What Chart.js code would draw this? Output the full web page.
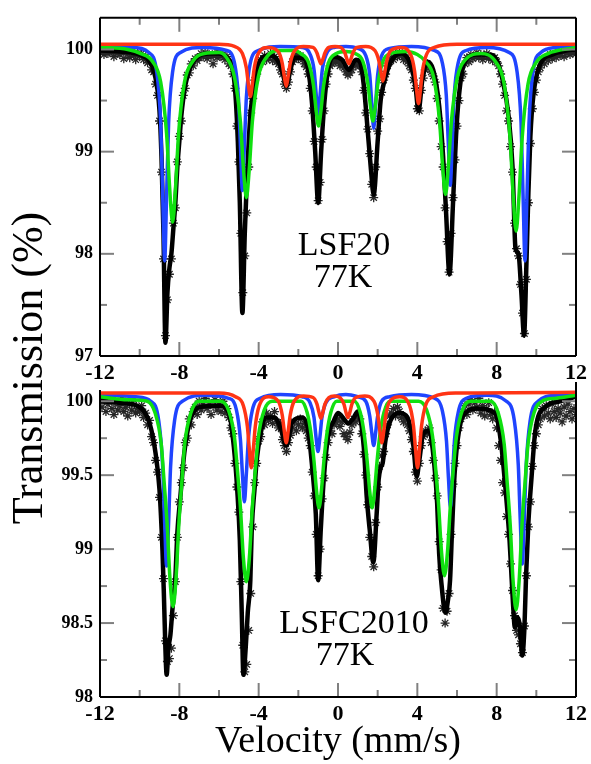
<!DOCTYPE html>
<html>
<head>
<meta charset="utf-8">
<script src="https://cdn.jsdelivr.net/npm/chart.js@4.4.1/dist/chart.umd.min.js"></script>
<style>
  body { margin: 0; background: #fff; }
  #wrap { position: relative; width: 591px; height: 764px; }
  canvas { position: absolute; left: 0; top: 0; }
  .warm { position: absolute; left: -1000px; top: 0; font-family: "Liberation Serif"; }
</style>
</head>
<body>
<div id="wrap">
  <canvas id="topChart" width="591" height="764"></canvas>
  <canvas id="bottomChart" width="591" height="764"></canvas>
</div>
<div class="warm">Velocity <b>-12 100</b></div>
<script>
// velocity channels (mm/s), same for both spectra
const velocity = [
  -12.0, -11.9, -11.8, -11.7, -11.6, -11.5, -11.4, -11.3, -11.2, -11.1,
  -11.0, -10.9, -10.8, -10.7, -10.6, -10.5, -10.4, -10.3, -10.2, -10.1,
  -10.0, -9.9, -9.8, -9.7, -9.6, -9.5, -9.4, -9.3, -9.2, -9.1,
  -9.0, -8.9, -8.8, -8.7, -8.6, -8.5, -8.4, -8.3, -8.2, -8.1,
  -8.0, -7.9, -7.8, -7.7, -7.6, -7.5, -7.4, -7.3, -7.2, -7.1,
  -7.0, -6.9, -6.8, -6.7, -6.6, -6.5, -6.4, -6.3, -6.2, -6.1,
  -6.0, -5.9, -5.8, -5.7, -5.6, -5.5, -5.4, -5.3, -5.2, -5.1,
  -5.0, -4.9, -4.8, -4.7, -4.6, -4.5, -4.4, -4.3, -4.2, -4.1,
  -4.0, -3.9, -3.8, -3.7, -3.6, -3.5, -3.4, -3.3, -3.2, -3.1,
  -3.0, -2.9, -2.8, -2.7, -2.6, -2.5, -2.4, -2.3, -2.2, -2.1,
  -2.0, -1.9, -1.8, -1.7, -1.6, -1.5, -1.4, -1.3, -1.2, -1.1,
  -1.0, -0.9, -0.8, -0.7, -0.6, -0.5, -0.4, -0.3, -0.2, -0.1,
  0.0, 0.1, 0.2, 0.3, 0.4, 0.5, 0.6, 0.7, 0.8, 0.9,
  1.0, 1.1, 1.2, 1.3, 1.4, 1.5, 1.6, 1.7, 1.8, 1.9,
  2.0, 2.1, 2.2, 2.3, 2.4, 2.5, 2.6, 2.7, 2.8, 2.9,
  3.0, 3.1, 3.2, 3.3, 3.4, 3.5, 3.6, 3.7, 3.8, 3.9,
  4.0, 4.1, 4.2, 4.3, 4.4, 4.5, 4.6, 4.7, 4.8, 4.9,
  5.0, 5.1, 5.2, 5.3, 5.4, 5.5, 5.6, 5.7, 5.8, 5.9,
  6.0, 6.1, 6.2, 6.3, 6.4, 6.5, 6.6, 6.7, 6.8, 6.9,
  7.0, 7.1, 7.2, 7.3, 7.4, 7.5, 7.6, 7.7, 7.8, 7.9,
  8.0, 8.1, 8.2, 8.3, 8.4, 8.5, 8.6, 8.7, 8.8, 8.9,
  9.0, 9.1, 9.2, 9.3, 9.4, 9.5, 9.6, 9.7, 9.8, 9.9,
  10.0, 10.1, 10.2, 10.3, 10.4, 10.5, 10.6, 10.7, 10.8, 10.9,
  11.0, 11.1, 11.2, 11.3, 11.4, 11.5, 11.6, 11.7, 11.8, 11.9, 12.0
];

// LSF20, 77K - measured transmission (%)
const transLSF20 = [
  99.97, 100.00, 99.95, 99.99, 99.96, 100.00, 99.97, 99.93, 99.99, 99.96,
  99.95, 99.98, 99.91, 99.99, 99.96, 99.92, 99.97, 99.94, 99.90, 99.96,
  99.93, 99.96, 99.90, 99.93, 99.87, 99.89, 99.80, 99.78, 99.66, 99.55,
  99.30, 98.80, 97.95, 97.20, 97.55, 97.80, 97.95, 98.30, 98.45, 98.90,
  99.15, 99.30, 99.55, 99.62, 99.75, 99.77, 99.86, 99.84, 99.91, 99.89,
  99.92, 99.96, 99.93, 99.97, 99.91, 99.95, 99.93, 99.86, 99.96, 99.92,
  99.97, 99.93, 99.95, 99.90, 99.93, 99.86, 99.84, 99.76, 99.62, 99.25,
  98.90, 98.20, 97.62, 97.98, 98.40, 98.85, 99.38, 99.52, 99.70, 99.76,
  99.83, 99.90, 99.88, 99.94, 99.90, 99.92, 99.96, 99.89, 99.93, 99.88,
  99.86, 99.80, 99.76, 99.66, 99.62, 99.68, 99.78, 99.88, 99.90, 99.95,
  99.91, 99.94, 99.90, 99.86, 99.83, 99.76, 99.62, 99.40, 99.10, 98.85,
  98.52, 98.70, 99.12, 99.40, 99.66, 99.76, 99.84, 99.86, 99.90, 99.88,
  99.88, 99.84, 99.87, 99.82, 99.78, 99.75, 99.77, 99.80, 99.86, 99.84,
  99.87, 99.84, 99.78, 99.60, 99.38, 99.22, 98.98, 98.68, 98.55, 98.85,
  99.20, 99.32, 99.58, 99.70, 99.76, 99.84, 99.88, 99.92, 99.90, 99.96,
  99.93, 99.97, 99.94, 99.90, 99.92, 99.88, 99.84, 99.80, 99.70, 99.62,
  99.42, 99.40, 99.60, 99.72, 99.80, 99.86, 99.82, 99.78, 99.74, 99.68,
  99.52, 99.30, 99.05, 98.85, 98.45, 98.12, 97.82, 98.20, 98.55, 98.92,
  99.25, 99.50, 99.72, 99.76, 99.86, 99.92, 99.88, 99.95, 99.91, 99.93,
  99.97, 99.92, 99.95, 99.90, 99.94, 99.96, 99.91, 99.93, 99.89, 99.92,
  99.88, 99.84, 99.76, 99.66, 99.55, 99.40, 99.30, 99.05, 98.80, 98.30,
  98.05, 97.98, 97.70, 97.42, 97.22, 97.75, 98.50, 99.08, 99.42, 99.58,
  99.70, 99.78, 99.82, 99.90, 99.86, 99.92, 99.89, 99.95, 99.91, 99.94,
  99.92, 99.97, 99.94, 99.98, 99.93, 99.96, 99.99, 99.95, 99.97, 100.01, 99.96
];

// LSFC2010, 77K - measured transmission (%)
const transLSFC2010 = [
  100.02, 99.96, 100.01, 99.93, 99.98, 100.03, 99.95, 99.91, 99.99, 99.94,
  99.97, 100.02, 99.93, 99.96, 99.90, 99.98, 99.94, 100.01, 99.92, 99.95,
  99.93, 99.97, 99.89, 99.92, 99.84, 99.87, 99.76, 99.72, 99.60, 99.52,
  99.35, 99.08, 98.80, 98.38, 98.24, 98.26, 98.33, 98.55, 98.78, 99.08,
  99.32, 99.45, 99.55, 99.72, 99.75, 99.88, 99.84, 99.93, 99.96, 99.91,
  100.00, 99.94, 99.98, 100.02, 99.95, 99.99, 99.91, 99.97, 100.01, 99.94,
  99.98, 99.93, 100.00, 99.92, 99.95, 99.89, 99.82, 99.78, 99.58, 99.42,
  99.25, 98.78, 98.35, 98.17, 98.22, 98.45, 98.70, 99.15, 99.45, 99.58,
  99.73, 99.76, 99.86, 99.84, 99.92, 99.87, 99.90, 99.85, 99.93, 99.86,
  99.82, 99.85, 99.74, 99.70, 99.66, 99.72, 99.77, 99.82, 99.86, 99.80,
  99.84, 99.88, 99.82, 99.85, 99.80, 99.75, 99.70, 99.52, 99.36, 99.10,
  98.82, 99.00, 99.34, 99.48, 99.62, 99.72, 99.80, 99.78, 99.84, 99.86,
  99.88, 99.83, 99.86, 99.78, 99.76, 99.74, 99.79, 99.84, 99.88, 99.86,
  99.90, 99.88, 99.78, 99.64, 99.50, 99.30, 99.08, 98.95, 98.88, 99.18,
  99.42, 99.56, 99.63, 99.66, 99.78, 99.84, 99.90, 99.92, 99.95, 99.90,
  99.96, 99.93, 99.89, 99.86, 99.88, 99.84, 99.80, 99.74, 99.66, 99.52,
  99.46, 99.58, 99.70, 99.76, 99.80, 99.78, 99.82, 99.72, 99.60, 99.48,
  99.36, 99.05, 98.86, 98.60, 98.50, 98.58, 98.70, 99.10, 99.44, 99.58,
  99.70, 99.82, 99.88, 99.93, 99.97, 99.91, 99.98, 100.01, 99.94, 99.99,
  99.96, 100.02, 99.92, 99.97, 99.90, 99.95, 99.99, 99.91, 99.88, 99.93,
  99.82, 99.70, 99.60, 99.45, 99.38, 99.22, 99.10, 98.90, 98.72, 98.55,
  98.45, 98.42, 98.36, 98.30, 98.48, 98.82, 99.15, 99.32, 99.56, 99.70,
  99.78, 99.84, 99.88, 99.95, 99.90, 99.97, 99.92, 99.88, 99.98, 99.93,
  99.89, 99.95, 99.92, 99.86, 99.96, 99.90, 99.98, 99.93, 99.88, 99.95, 99.91
];

// fitted curves, [velocity, transmission]
const lsf20Total = [
  [-12, 99.99], [-11, 99.98], [-10, 99.95], [-9.5, 99.88], [-9.2, 99.72], [-9.0, 99.40],
  [-8.9, 98.95], [-8.8, 98.20], [-8.7, 97.13], [-8.6, 97.62], [-8.5, 97.86], [-8.4, 98.00],
  [-8.3, 98.25], [-8.2, 98.50], [-8.1, 98.85], [-8.0, 99.10], [-7.9, 99.35], [-7.7, 99.65],
  [-7.4, 99.85], [-7.0, 99.94], [-6.5, 99.96], [-6.0, 99.96], [-5.6, 99.92], [-5.3, 99.80],
  [-5.15, 99.50], [-5.05, 99.10], [-4.95, 98.50], [-4.82, 97.42], [-4.7, 98.20], [-4.6, 98.70],
  [-4.5, 99.10], [-4.4, 99.40], [-4.25, 99.62], [-4.1, 99.80], [-3.8, 99.92], [-3.4, 99.94],
  [-3.0, 99.88], [-2.8, 99.78], [-2.6, 99.64], [-2.4, 99.80], [-2.2, 99.92], [-1.8, 99.92],
  [-1.5, 99.80], [-1.3, 99.45], [-1.15, 99.00], [-1.0, 98.50], [-0.85, 99.00], [-0.7, 99.45],
  [-0.5, 99.80], [-0.2, 99.93], [0.2, 99.90], [0.55, 99.80], [0.9, 99.90], [1.1, 99.88],
  [1.3, 99.65], [1.5, 99.20], [1.65, 98.85], [1.8, 98.58], [2.0, 99.10], [2.15, 99.50],
  [2.3, 99.66], [2.5, 99.80], [2.8, 99.92], [3.2, 99.96], [3.6, 99.88], [3.9, 99.65],
  [4.06, 99.40], [4.25, 99.70], [4.5, 99.88], [4.8, 99.80], [5.1, 99.45], [5.3, 98.95],
  [5.45, 98.40], [5.62, 97.80], [5.8, 98.50], [5.95, 99.15], [6.1, 99.55], [6.4, 99.88],
  [7.0, 99.95], [7.6, 99.95], [8.0, 99.90], [8.3, 99.70], [8.6, 99.35], [8.8, 98.85],
  [8.95, 98.05], [9.1, 98.00], [9.25, 97.60], [9.38, 97.20], [9.5, 97.90], [9.6, 98.60],
  [9.7, 99.15], [9.85, 99.55], [10.2, 99.86], [10.8, 99.95], [11.5, 99.99], [12, 100.0]
];
const lsf20Blue = [
  [-12, 100.03], [-10.3, 100.02], [-9.54, 99.97], [-9.14, 99.78], [-8.94, 99.28], [-8.84, 98.58],
  [-8.74, 97.93], [-8.64, 98.58], [-8.54, 99.28], [-8.34, 99.78], [-7.94, 99.97], [-6.8, 100.02],
  [-5.62, 99.99], [-5.22, 99.87], [-5.02, 99.53], [-4.92, 99.06], [-4.82, 98.62], [-4.72, 99.06],
  [-4.62, 99.53], [-4.42, 99.87], [-4.02, 99.99], [-2.9, 100.03], [-1.8, 100.02], [-1.4, 99.95],
  [-1.2, 99.79], [-1.1, 99.56], [-1.0, 99.34], [-0.9, 99.56], [-0.8, 99.79], [-0.6, 99.95],
  [-0.2, 100.02], [0.4, 100.03], [1.0, 100.01], [1.4, 99.94], [1.6, 99.75], [1.7, 99.48],
  [1.8, 99.23], [1.9, 99.48], [2.0, 99.75], [2.2, 99.94], [2.6, 100.01], [3.7, 100.03],
  [4.86, 99.99], [5.26, 99.87], [5.46, 99.55], [5.56, 99.09], [5.66, 98.67], [5.76, 99.09],
  [5.86, 99.55], [6.06, 99.87], [6.46, 99.99], [7.5, 100.02], [8.63, 99.97], [9.03, 99.78],
  [9.23, 99.28], [9.33, 98.58], [9.43, 97.93], [9.53, 98.58], [9.63, 99.28], [9.83, 99.78],
  [10.23, 99.97], [11, 100.02], [12, 100.03]
];
const lsf20Green = [
  [-12, 100.02], [-10.6, 100.0], [-9.94, 99.96], [-9.34, 99.88], [-8.94, 99.68], [-8.64, 99.17],
  [-8.49, 98.65], [-8.34, 98.31], [-8.19, 98.65], [-8.04, 99.17], [-7.74, 99.68], [-7.34, 99.88],
  [-6.74, 99.96], [-6.0, 99.97], [-5.62, 99.92], [-5.22, 99.73], [-4.92, 99.29], [-4.77, 98.84],
  [-4.62, 98.55], [-4.47, 98.84], [-4.32, 99.29], [-4.02, 99.73], [-3.62, 99.92], [-2.9, 99.99],
  [-2.2, 99.99], [-1.88, 99.96], [-1.48, 99.87], [-1.23, 99.64], [-1.1, 99.40], [-0.98, 99.25],
  [-0.86, 99.40], [-0.73, 99.64], [-0.48, 99.87], [-0.08, 99.96], [0.4, 99.98], [0.86, 99.96],
  [1.26, 99.88], [1.51, 99.66], [1.64, 99.44], [1.76, 99.30], [1.88, 99.44], [2.01, 99.66],
  [2.26, 99.88], [2.66, 99.96], [3.4, 99.98], [4.0, 99.95], [4.42, 99.88], [4.82, 99.73],
  [5.12, 99.30], [5.27, 98.87], [5.42, 98.58], [5.57, 98.87], [5.72, 99.30], [6.02, 99.73],
  [6.42, 99.90], [7.2, 99.96], [7.98, 99.87], [8.38, 99.66], [8.68, 99.12], [8.83, 98.58],
  [8.98, 98.22], [9.13, 98.58], [9.28, 99.12], [9.58, 99.66], [9.98, 99.87], [10.58, 99.96],
  [12, 100.02]
];
const lsf20Red = [
  [-12, 100.05], [-6.0, 100.05], [-5.22, 100.03], [-4.82, 99.96], [-4.62, 99.82], [-4.52, 99.66],
  [-4.42, 99.54], [-4.32, 99.66], [-4.22, 99.82], [-4.02, 99.96], [-3.52, 100.02], [-3.01, 99.98],
  [-2.81, 99.865], [-2.71, 99.74], [-2.61, 99.64], [-2.51, 99.74], [-2.41, 99.865], [-2.21, 99.98],
  [-1.74, 100.03], [-1.26, 100.02], [-1.06, 99.965], [-0.96, 99.905], [-0.86, 99.86], [-0.76, 99.905],
  [-0.66, 99.965], [-0.46, 100.02], [-0.15, 100.03], [0.15, 100.02], [0.35, 99.965], [0.45, 99.905],
  [0.55, 99.86], [0.65, 99.905], [0.75, 99.965], [0.95, 100.02], [1.4, 100.03], [1.86, 99.99],
  [2.06, 99.89], [2.16, 99.78], [2.26, 99.69], [2.36, 99.78], [2.46, 99.89], [2.66, 99.99],
  [3.16, 100.02], [3.66, 99.95], [3.86, 99.79], [3.96, 99.61], [4.06, 99.47], [4.16, 99.61],
  [4.26, 99.79], [4.46, 99.95], [4.86, 100.02], [6.0, 100.05], [12, 100.05]
];

const lsfc2010Total = [
  [-12, 100.0], [-11, 99.99], [-10, 99.96], [-9.5, 99.85], [-9.2, 99.65], [-9.0, 99.40],
  [-8.85, 98.99], [-8.78, 98.70], [-8.7, 98.32], [-8.64, 98.15], [-8.55, 98.33], [-8.45, 98.42],
  [-8.35, 98.59], [-8.2, 98.81], [-8.1, 99.11], [-7.95, 99.35], [-7.75, 99.65], [-7.5, 99.85],
  [-7.0, 99.96], [-6.0, 99.97], [-5.5, 99.92], [-5.25, 99.69], [-5.08, 99.40], [-4.95, 99.06],
  [-4.85, 98.55], [-4.77, 98.15], [-4.65, 98.34], [-4.55, 98.57], [-4.42, 98.79], [-4.35, 99.13],
  [-4.2, 99.42], [-4.1, 99.60], [-3.9, 99.78], [-3.65, 99.89], [-3.2, 99.89], [-2.9, 99.82],
  [-2.61, 99.70], [-2.3, 99.86], [-1.8, 99.89], [-1.5, 99.80], [-1.32, 99.58], [-1.12, 99.24],
  [-1.0, 98.79], [-0.87, 99.13], [-0.72, 99.47], [-0.5, 99.76], [-0.2, 99.87], [0.0, 99.92],
  [0.3, 99.88], [0.5, 99.85], [0.75, 99.88], [1.0, 99.93], [1.3, 99.69], [1.45, 99.35],
  [1.6, 99.13], [1.78, 98.91], [1.95, 99.24], [2.05, 99.47], [2.15, 99.55], [2.25, 99.58],
  [2.4, 99.74], [2.65, 99.87], [3.1, 99.92], [3.5, 99.89], [3.8, 99.70], [3.97, 99.49],
  [4.1, 99.60], [4.3, 99.78], [4.6, 99.80], [4.85, 99.58], [5.0, 99.31], [5.1, 98.97],
  [5.2, 98.79], [5.42, 98.57], [5.55, 98.66], [5.65, 98.79], [5.75, 99.13], [5.88, 99.51],
  [6.1, 99.80], [6.5, 99.93], [7.0, 99.95], [7.9, 99.92], [8.2, 99.74], [8.45, 99.40],
  [8.65, 99.06], [8.72, 98.89], [8.82, 98.64], [8.92, 98.47], [9.05, 98.54], [9.17, 98.48],
  [9.29, 98.28], [9.4, 98.47], [9.48, 98.81], [9.6, 99.18], [9.75, 99.47], [9.95, 99.80],
  [10.45, 99.96], [11.2, 100.0], [12, 100.03]
];
const lsfc2010Blue = [
  [-12, 100.045], [-10.2, 100.03], [-9.44, 100.0], [-9.04, 99.87], [-8.84, 99.56], [-8.74, 99.18],
  [-8.64, 98.885], [-8.54, 99.18], [-8.44, 99.56], [-8.24, 99.87], [-7.84, 100.0], [-6.7, 100.04],
  [-5.52, 100.02], [-5.12, 99.94], [-4.92, 99.74], [-4.82, 99.51], [-4.72, 99.32], [-4.62, 99.51],
  [-4.52, 99.74], [-4.32, 99.94], [-3.92, 100.02], [-2.9, 100.045], [-1.8, 100.03], [-1.41, 99.99],
  [-1.21, 99.89], [-1.11, 99.76], [-1.01, 99.66], [-0.91, 99.76], [-0.81, 99.89], [-0.61, 99.99],
  [-0.2, 100.03], [0.4, 100.045], [1.0, 100.03], [1.4, 100.0], [1.6, 99.90], [1.7, 99.79],
  [1.8, 99.70], [1.9, 99.79], [2.0, 99.90], [2.2, 100.0], [2.6, 100.03], [3.7, 100.045],
  [4.87, 100.02], [5.27, 99.93], [5.47, 99.73], [5.57, 99.48], [5.67, 99.28], [5.77, 99.48],
  [5.87, 99.73], [6.07, 99.93], [6.47, 100.02], [7.5, 100.04], [8.49, 100.0], [8.89, 99.87],
  [9.09, 99.57], [9.19, 99.195], [9.29, 98.90], [9.39, 99.195], [9.49, 99.57], [9.69, 99.87],
  [10.09, 100.0], [11, 100.04], [12, 100.045]
];
const lsfc2010Green = [
  [-12, 100.03], [-10.6, 100.01], [-9.62, 100.0], [-9.22, 99.92], [-8.92, 99.72], [-8.77, 99.46],
  [-8.62, 99.18], [-8.47, 98.795], [-8.32, 98.61], [-8.17, 98.795], [-8.02, 99.18], [-7.87, 99.46],
  [-7.72, 99.72], [-7.42, 99.92], [-7.02, 100.0], [-6.4, 100.0], [-5.92, 100.0], [-5.52, 99.94],
  [-5.22, 99.755], [-5.07, 99.53], [-4.92, 99.28], [-4.77, 98.94], [-4.62, 98.78], [-4.47, 98.94],
  [-4.32, 99.28], [-4.17, 99.53], [-4.02, 99.755], [-3.72, 99.94], [-3.32, 100.0], [-2.4, 100.0],
  [-1.86, 100.0], [-1.56, 99.925], [-1.36, 99.78], [-1.21, 99.595], [-1.08, 99.39], [-0.96, 99.28],
  [-0.84, 99.39], [-0.71, 99.595], [-0.56, 99.78], [-0.36, 99.925], [-0.06, 100.0], [0.4, 100.0],
  [0.82, 100.0], [1.12, 99.925], [1.32, 99.78], [1.47, 99.595], [1.60, 99.39], [1.72, 99.28],
  [1.84, 99.39], [1.97, 99.595], [2.12, 99.78], [2.32, 99.925], [2.62, 100.0], [3.4, 100.0],
  [4.07, 100.0], [4.47, 99.94], [4.77, 99.76], [4.92, 99.55], [5.07, 99.30], [5.22, 98.98],
  [5.37, 98.82], [5.52, 98.98], [5.67, 99.30], [5.82, 99.55], [5.97, 99.76], [6.27, 99.94],
  [6.67, 100.0], [7.3, 100.0], [7.68, 100.0], [8.08, 99.92], [8.38, 99.71], [8.53, 99.45],
  [8.68, 99.17], [8.83, 98.78], [8.98, 98.59], [9.13, 98.78], [9.28, 99.17], [9.43, 99.45],
  [9.58, 99.71], [9.88, 99.92], [10.28, 100.0], [11, 100.02], [12, 100.04]
];
const lsfc2010Red = [
  [-12, 100.055], [-6, 100.055], [-5.17, 100.03], [-4.77, 99.97], [-4.57, 99.83], [-4.47, 99.675],
  [-4.37, 99.55], [-4.27, 99.675], [-4.17, 99.83], [-3.97, 99.97], [-3.49, 100.03], [-3.01, 100.0],
  [-2.81, 99.905], [-2.71, 99.80], [-2.61, 99.72], [-2.51, 99.80], [-2.41, 99.905], [-2.21, 100.0],
  [-1.74, 100.035], [-1.26, 100.025], [-1.06, 99.98], [-0.96, 99.925], [-0.86, 99.885], [-0.76, 99.925],
  [-0.66, 99.98], [-0.46, 100.025], [-0.18, 100.035], [0.1, 100.025], [0.3, 99.98], [0.4, 99.925],
  [0.5, 99.89], [0.6, 99.925], [0.7, 99.98], [0.9, 100.025], [1.35, 100.035], [1.81, 100.0],
  [2.01, 99.905], [2.11, 99.80], [2.21, 99.72], [2.31, 99.80], [2.41, 99.905], [2.61, 100.0],
  [3.11, 100.03], [3.61, 99.97], [3.81, 99.83], [3.91, 99.675], [4.01, 99.55], [4.11, 99.675],
  [4.21, 99.83], [4.41, 99.97], [4.81, 100.03], [6, 100.055], [12, 100.06]
];

// axis ticks
const xTicks = [-12, -8, -4, 0, 4, 8, 12];
const xMinorTicks = [-10, -6, -2, 2, 6, 10];
const yTicksTop = [97, 98, 99, 100];
const yMinorTop = [97.5, 98.5, 99.5];
const yTicksBottom = [98, 98.5, 99, 99.5, 100];
const yMinorBottom = [98.25, 98.75, 99.25, 99.75];

const SERIF = '"Liberation Serif"';
const BLUE = '#1f44ff', GREEN = '#10e010', RED = '#ff3414';

const xy = pts => pts.map(([x, y]) => ({ x, y }));
const measured = arr => velocity.map((v, i) => ({ x: v, y: arr[i] }));

// frame, inward ticks and text labels
const panelDecor = {
  id: 'panelDecor',
  afterDraw(chart, args, o) {
    const { ctx, chartArea: a } = chart;
    const sx = chart.scales.x, sy = chart.scales.y;
    const seg = (x1, y1, x2, y2) => { ctx.beginPath(); ctx.moveTo(x1, y1); ctx.lineTo(x2, y2); ctx.stroke(); };
    ctx.save();
    ctx.lineWidth = 2;
    ctx.strokeStyle = '#808080';
    [[xTicks, 14], [xMinorTicks, 7]].forEach(([vals, len]) => vals.forEach(v => {
      const px = sx.getPixelForValue(v);
      seg(px, a.bottom, px, a.bottom - len);
      if (o.topEdge) seg(px, a.top, px, a.top + len);
    }));
    [[o.yMajor, 14], [o.yMinor, 7]].forEach(([vals, len]) => vals.forEach(v => {
      const py = sy.getPixelForValue(v);
      seg(a.left, py, a.left + len, py);
      seg(a.right, py, a.right - len, py);
    }));
    ctx.strokeStyle = '#000';
    seg(a.left, a.bottom, a.right, a.bottom);
    seg(a.left, a.top + (o.topEdge ? 0 : 8), a.left, a.bottom);
    seg(a.right, a.top, a.right, a.bottom);
    if (o.topEdge) seg(a.left, a.top, a.right, a.top);

    ctx.fillStyle = '#000';
    ctx.textAlign = 'center';
    ctx.textBaseline = 'alphabetic';
    ctx.font = '34px ' + SERIF;
    o.labels.forEach(l => ctx.fillText(l.text, l.x, l.y));
    if (o.yTitle) {
      ctx.translate(30, 368);
      ctx.rotate(-Math.PI / 2);
      ctx.textBaseline = 'middle';
      ctx.font = '44px ' + SERIF;
      ctx.fillText(o.yTitle, 0, 0);
    }
    ctx.restore();
  }
};

function makePanel(id, cfg) {
  return new Chart(document.getElementById(id), {
    type: 'line',
    data: {
      datasets: [
        { data: xy(cfg.red), borderColor: RED, borderWidth: 3.5, pointRadius: 0, cubicInterpolationMode: 'monotone', order: 0 },
        { data: xy(cfg.green), borderColor: GREEN, borderWidth: 3.5, pointRadius: 0, cubicInterpolationMode: 'monotone', order: 1 },
        { data: xy(cfg.blue), borderColor: BLUE, borderWidth: 3.5, pointRadius: 0, cubicInterpolationMode: 'monotone', order: 2 },
        { data: xy(cfg.total), borderColor: '#000', borderWidth: 4.5, pointRadius: 0, cubicInterpolationMode: 'monotone', order: 3 },
        { data: measured(cfg.measured), showLine: false, pointStyle: 'star', pointRadius: 4.5,
          borderColor: '#262626', borderWidth: 1.3, backgroundColor: '#262626', order: 4 }
      ]
    },
    options: {
      responsive: false,
      animation: false,
      events: [],
      layout: { padding: cfg.padding },
      plugins: {
        legend: { display: false },
        tooltip: { enabled: false },
        panelDecor: cfg.decor
      },
      scales: {
        x: {
          type: 'linear', min: -12, max: 12,
          afterBuildTicks: s => { s.ticks = xTicks.map(v => ({ value: v })); },
          afterFit: s => { s.height = cfg.xHeight; },
          grid: { display: false, drawTicks: false },
          border: { display: false },
          ticks: { color: '#000', padding: 4, maxRotation: 0, callback: v => String(v),
                   font: { family: SERIF, size: 22, weight: 'bold' } },
          title: cfg.xTitle
        },
        y: {
          type: 'linear', min: cfg.yMin, max: cfg.yMax,
          afterBuildTicks: s => { s.ticks = cfg.yTicks.map(v => ({ value: v })); },
          afterFit: s => { s.width = 100; },
          grid: { display: false, drawTicks: false },
          border: { display: false },
          ticks: { color: '#000', padding: 7, callback: v => String(v),
                   font: { family: SERIF, size: 18, weight: 'bold' } }
        }
      }
    },
    plugins: [panelDecor]
  });
}

function drawAll() {
  makePanel('topChart', {
    red: lsf20Red, green: lsf20Green, blue: lsf20Blue, total: lsf20Total, measured: transLSF20,
    padding: { left: 0, right: 13, top: 13, bottom: 380 },
    xHeight: 28, yMin: 97, yMax: 100.31, yTicks: yTicksTop,
    xTitle: { display: false },
    decor: {
      topEdge: true, yMajor: yTicksTop, yMinor: yMinorTop,
      labels: [{ text: 'LSF20', x: 344, y: 255 }, { text: '77K', x: 343, y: 287 }],
      yTitle: 'Transmission (%)'
    }
  });

  makePanel('bottomChart', {
    red: lsfc2010Red, green: lsfc2010Green, blue: lsfc2010Blue, total: lsfc2010Total, measured: transLSFC2010,
    padding: { left: 0, right: 13, top: 382, bottom: 0 },
    xHeight: 67, yMin: 98, yMax: 100.13, yTicks: yTicksBottom,
    xTitle: { display: true, text: 'Velocity (mm/s)', color: '#000', padding: { top: 0, bottom: 3 },
              font: { family: SERIF, size: 38, lineHeight: 1 } },
    decor: {
      topEdge: false, yMajor: yTicksBottom, yMinor: yMinorBottom,
      labels: [{ text: 'LSFC2010', x: 354, y: 633 }, { text: '77K', x: 345, y: 665 }]
    }
  });
}

Promise.all([
  document.fonts.load('bold 22px "Liberation Serif"'),
  document.fonts.load('34px "Liberation Serif"')
]).then(drawAll, drawAll);
</script>
</body>
</html>
